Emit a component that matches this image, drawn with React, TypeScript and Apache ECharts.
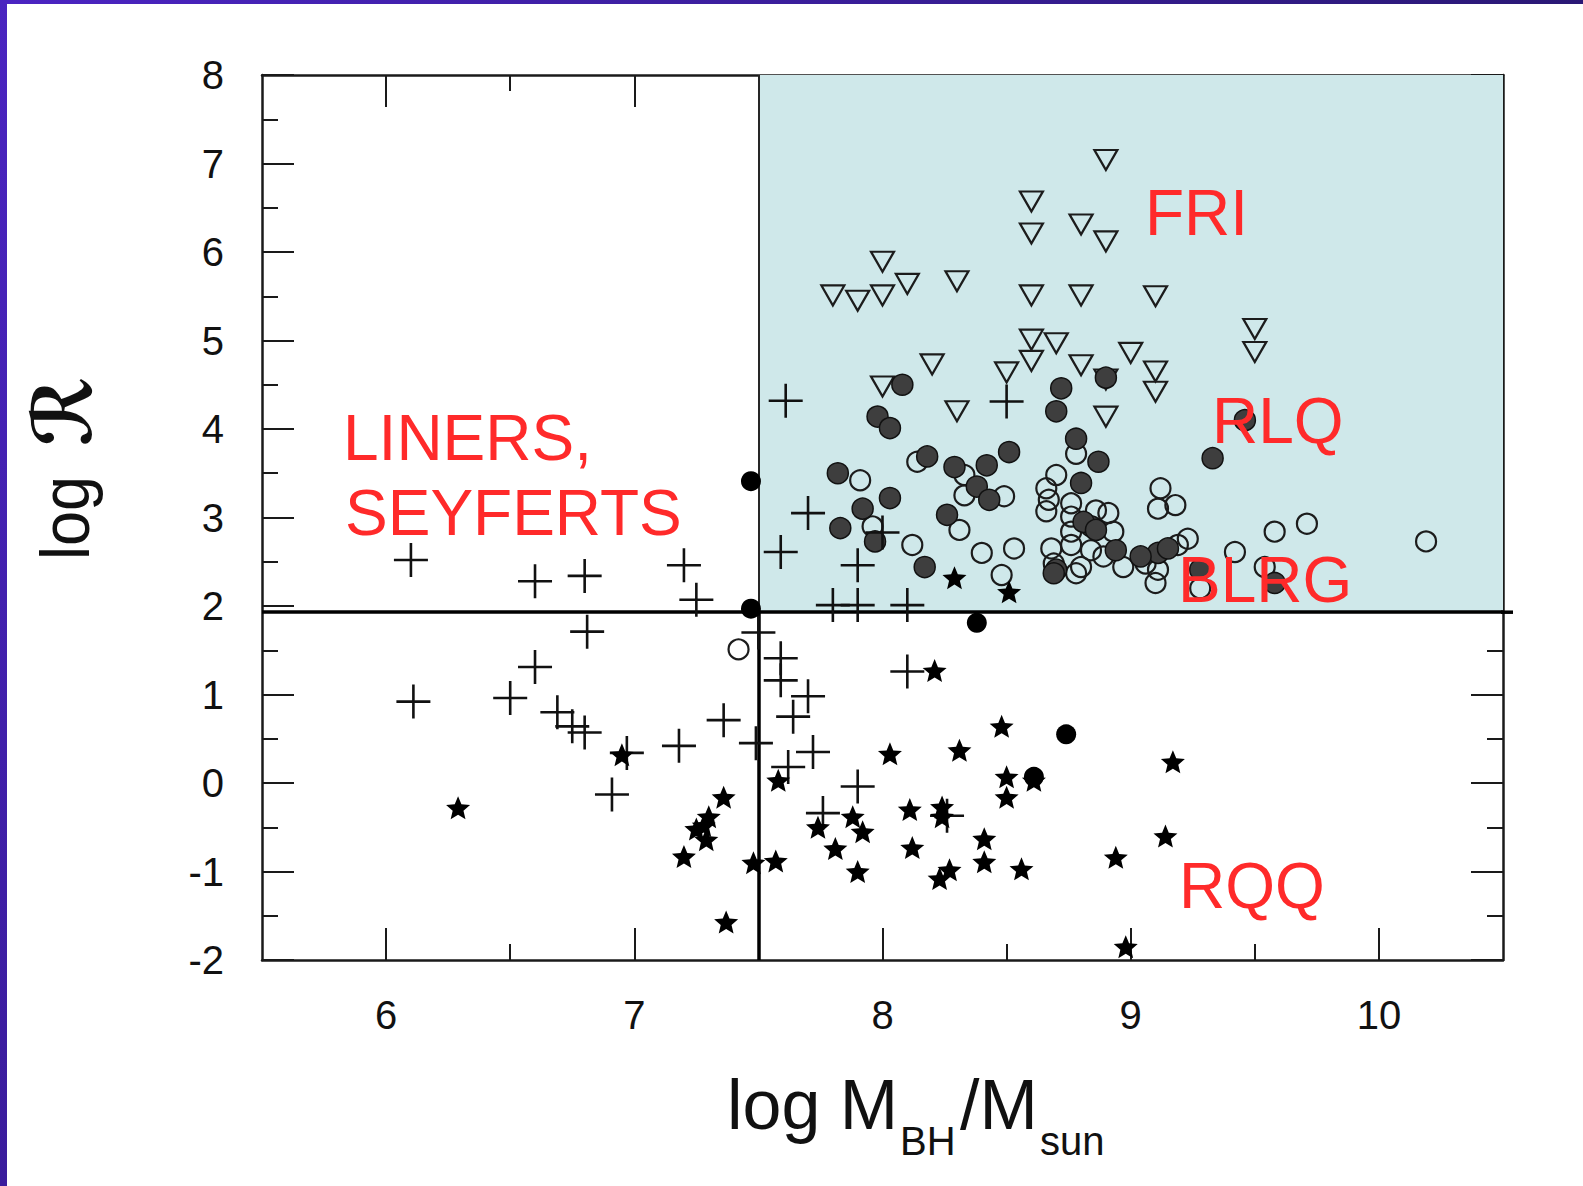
import React, { useEffect, useRef } from 'react';
import * as echarts from 'echarts';

// ---- axes ----
const xMin = 5.5;
const xMax = 10.5;
const xMajorTicks = [6, 7, 8, 9, 10];
const xMinorTicks = [6.5, 7.5, 8.5, 9.5];
const yMin = -2;
const yMax = 8;

// ---- region dividers ----
const massDivider = 7.5;
const loudnessDivider = 1.93;

// ---- data: [log M_BH, log R] ----
const friTriangles = [
  [8.9, 7.04], [8.6, 6.57], [8.6, 6.21], [8.8, 6.31], [8.9, 6.12], [8.0, 5.89], [8.1, 5.64],
  [8.3, 5.67], [7.8, 5.51], [7.9, 5.45], [8.0, 5.51], [8.6, 5.51], [8.8, 5.51], [9.1, 5.5],
  [9.5, 5.13], [9.5, 4.87], [8.6, 5.01], [8.7, 4.97], [8.6, 4.77], [8.2, 4.73], [8.8, 4.72],
  [9.0, 4.86], [9.1, 4.65], [9.1, 4.42], [8.5, 4.64], [8.0, 4.48], [8.3, 4.2], [8.9, 4.14],
  [8.9, 4.56],
];

const rlqHatched = [
  [8.08, 4.5], [7.98, 4.14], [8.03, 4.01], [8.72, 4.46], [8.7, 4.2], [8.51, 3.74], [8.18, 3.69],
  [7.82, 3.5], [8.29, 3.57], [8.42, 3.59], [8.38, 3.35], [8.43, 3.2], [8.03, 3.22], [7.92, 3.1],
  [7.83, 2.88], [7.97, 2.73], [8.26, 3.03], [8.17, 2.44], [8.78, 3.89], [8.87, 3.63], [8.8, 3.39],
  [8.84, 2.9], [8.81, 2.95], [8.86, 2.86], [9.33, 3.67], [9.46, 4.1], [9.11, 2.6], [9.15, 2.65],
  [8.7, 2.41], [9.28, 2.41], [9.58, 2.26], [8.9, 4.58], [8.69, 2.37], [8.94, 2.63], [9.04, 2.56],
];

const blrgOpen = [
  [8.14, 3.63], [7.91, 3.42], [8.31, 2.86], [8.12, 2.69], [8.4, 2.6], [8.53, 2.65], [8.48, 2.35],
  [8.33, 3.48], [8.33, 3.25], [8.49, 3.24], [7.96, 2.9], [8.78, 3.72], [8.7, 3.48], [8.66, 3.33],
  [8.67, 3.2], [8.66, 3.07], [8.76, 3.16], [8.76, 3.01], [8.86, 3.08], [8.91, 3.05], [8.93, 2.84],
  [8.76, 2.84], [8.68, 2.65], [8.76, 2.69], [8.84, 2.63], [8.89, 2.56], [8.69, 2.48], [8.8, 2.44],
  [8.78, 2.37], [8.97, 2.44], [9.06, 2.48], [9.11, 2.41], [9.1, 2.26], [9.19, 2.69], [9.23, 2.76],
  [9.12, 3.33], [9.11, 3.1], [9.18, 3.14], [9.42, 2.61], [9.58, 2.84], [9.71, 2.93], [10.19, 2.73],
  [9.54, 2.44], [9.28, 2.2], [7.42, 1.51],
];

const linerCrosses = [
  [6.1, 2.52], [6.6, 2.28], [6.8, 2.34], [7.2, 2.46], [7.25, 2.07], [6.81, 1.71], [6.6, 1.31],
  [6.11, 0.92], [6.5, 0.96], [6.69, 0.8], [6.75, 0.64], [6.8, 0.57], [6.97, 0.34], [7.18, 0.42],
  [7.36, 0.71], [6.91, -0.13], [7.49, 0.45], [7.5, 1.7], [7.59, 1.41], [7.59, 1.16], [7.7, 0.98],
  [7.64, 0.75], [7.72, 0.35], [7.62, 0.18], [7.9, -0.04], [7.76, -0.34], [8.1, 1.26], [8.26, -0.37],
  [7.61, 4.32], [8.5, 4.31], [7.7, 3.05], [7.59, 2.61], [7.9, 2.46], [7.8, 2.01], [7.9, 2.01],
  [8.1, 2.01], [8.0, 2.83],
];

const rqqStars = [
  [6.29, -0.28], [6.95, 0.32], [7.36, -0.16], [7.28, -0.48], [7.25, -0.52], [7.29, -0.64],
  [7.3, -0.38], [7.2, -0.83], [7.37, -1.57], [7.48, -0.9], [7.57, -0.88], [7.58, 0.03], [8.21, 1.27],
  [8.03, 0.33], [8.31, 0.37], [8.48, 0.64], [8.5, 0.07], [8.5, -0.16], [8.61, 0.03], [7.74, -0.5],
  [7.88, -0.38], [7.92, -0.55], [7.81, -0.74], [7.9, -1.0], [8.11, -0.3], [8.24, -0.27],
  [8.24, -0.38], [8.12, -0.73], [8.41, -0.63], [8.41, -0.89], [8.23, -1.08], [8.27, -0.98],
  [8.56, -0.97], [9.17, 0.24], [9.14, -0.6], [8.94, -0.84], [8.98, -1.85], [8.29, 2.32], [8.51, 2.16],
];

const solidDots = [[7.47, 3.41], [7.47, 1.97], [8.38, 1.81], [8.74, 0.55], [8.61, 0.07]];

// ---- styling ----
const FONT = "'Liberation Sans', Arial, Helvetica, sans-serif";
const RED = '#ff2a2a';
const INK = '#1a1a1a';
const CROSS = 'path://M15.7,0H18.3V34H15.7Z M0,15.7H34V18.3H0Z';
const STAR =
  'path://M0,-100 L26.5,-36.4 L95.1,-30.9 L42.8,13.9 L58.8,80.9 L0,45 L-58.8,80.9 L-42.8,13.9 L-95.1,-30.9 L-26.5,-36.4 Z';
const TRI_DOWN = 'path://M0,0 L20,0 L10,17.3 Z';

function xAxisDef(position: string, values: number[], length: number, showLine: boolean, showLabel: boolean) {
  return {
    type: 'value',
    position,
    min: xMin,
    max: xMax,
    axisLine: { show: showLine, onZero: false, lineStyle: { color: INK, width: 2.5 } },
    axisTick: { show: true, inside: true, length, customValues: values, lineStyle: { color: INK, width: 2 } },
    axisLabel: {
      show: showLabel,
      customValues: values,
      margin: 35,
      fontSize: 40,
      color: '#111',
      fontFamily: FONT,
    },
    splitLine: { show: false },
    minorTick: { show: false },
  };
}

function yAxisDef(position: string, showLabel: boolean) {
  return {
    type: 'value',
    position,
    min: yMin,
    max: yMax,
    interval: 1,
    axisLine: { show: true, onZero: false, lineStyle: { color: INK, width: 2.5 } },
    axisTick: { show: true, inside: true, length: 32, lineStyle: { color: INK, width: 2 } },
    minorTick: { show: true, splitNumber: 2, length: 16, lineStyle: { color: INK, width: 2 } },
    axisLabel: { show: showLabel, margin: 38, fontSize: 40, color: '#111', fontFamily: FONT },
    splitLine: { show: false },
    minorSplitLine: { show: false },
  };
}

function textEl(id: string, text: string, x: number, y: number, size: number, fill: string, scaleY = 1) {
  return {
    id,
    type: 'text',
    x,
    y,
    scaleY,
    z: 100,
    silent: true,
    style: {
      text,
      fill,
      fontSize: size,
      fontFamily: FONT,
      textAlign: 'left',
      textVerticalAlign: 'middle',
      align: 'left',
      verticalAlign: 'middle',
    },
  };
}

function rotatedText(id: string, text: string, x: number, y: number, size: number, family: string, weight = 'normal') {
  return {
    id,
    type: 'text',
    x,
    y,
    rotation: Math.PI / 2,
    scaleY: 1.1,
    z: 100,
    silent: true,
    style: {
      text,
      fill: '#111',
      fontSize: size,
      fontWeight: weight,
      fontFamily: family,
      textAlign: 'left',
      textVerticalAlign: 'middle',
      align: 'left',
      verticalAlign: 'middle',
    },
  };
}

function scatter(name: string, data: number[][], symbol: string, symbolSize: any, itemStyle: any) {
  return {
    name,
    type: 'scatter',
    silent: true,
    symbol,
    symbolSize,
    itemStyle: { opacity: 1, ...itemStyle },
    emphasis: { disabled: true },
    data,
  };
}

export default function App() {
  const ref = useRef<HTMLDivElement>(null);

  useEffect(() => {
    document.body.style.margin = '0';
    const chart = echarts.init(ref.current as HTMLDivElement, null, { renderer: 'svg' });

    const thick = { color: '#000', width: 3.5, type: 'solid' };
    const thin = { color: '#262626', width: 2, type: 'solid' };

    const graphicElements: any[] = [
      {
        id: 'bandTop',
        type: 'rect',
        z: 200,
        silent: true,
        shape: { x: 0, y: 0, width: 1583, height: 4 },
        style: {
          fill: {
            type: 'linear', x: 0, y: 0, x2: 1, y2: 0,
            colorStops: [{ offset: 0, color: '#4b24c2' }, { offset: 1, color: '#2a1875' }],
          },
        },
      },
      {
        id: 'bandLeft',
        type: 'rect',
        z: 200,
        silent: true,
        shape: { x: 0, y: 0, width: 7, height: 1186 },
        style: {
          fill: {
            type: 'linear', x: 0, y: 0, x2: 0, y2: 1,
            colorStops: [{ offset: 0, color: '#4a24c0' }, { offset: 1, color: '#3a1c9c' }],
          },
        },
      },
      textEl('fri', 'FRI', 1145, 213, 64, RED),
      textEl('rlq', 'RLQ', 1212, 421, 64, RED),
      textEl('blrg', 'BLRG', 1178, 580, 64, RED),
      textEl('rqq', 'RQQ', 1179, 886, 64, RED),
      textEl('liners', 'LINERS,', 343, 438, 64, RED),
      textEl('seyferts', 'SEYFERTS', 345, 513, 64, RED),
      textEl('xt1', 'log M', 727, 1105, 70, '#111'),
      textEl('xt2', 'BH', 900, 1141, 40, '#111'),
      textEl('xt3', '/M', 960, 1105, 70, '#111'),
      textEl('xt4', 'sun', 1040, 1141, 40, '#111'),
      rotatedText('ytitle1', 'log', 65, 560, 63, FONT),
      rotatedText('ytitle2', '\u211B', 63, 446, 74, "'DejaVu Sans', 'DejaVu Serif', serif", 'bold'),
    ];

    const option: any = {
      animation: false,
      backgroundColor: '#ffffff',
      grid: { left: 262, top: 75, right: 80, bottom: 226, containLabel: false },
      xAxis: [
        xAxisDef('bottom', xMajorTicks, 32, true, true),
        xAxisDef('bottom', xMinorTicks, 16, false, false),
        xAxisDef('top', xMajorTicks, 32, true, false),
        xAxisDef('top', xMinorTicks, 16, false, false),
      ],
      yAxis: [yAxisDef('left', true), yAxisDef('right', false)],
      series: [
        {
          name: 'shade',
          type: 'scatter',
          silent: true,
          symbol: 'none',
          data: [[9, 5]],
          markArea: {
            silent: true,
            z: 0.5,
            itemStyle: { color: '#cfe8ea' },
            data: [[{ coord: [massDivider, loudnessDivider] }, { coord: [xMax, yMax] }]],
          },
          markLine: {
            silent: true,
            z: 1.5,
            symbol: ['none', 'none'],
            label: { show: false },
            emphasis: { disabled: true },
            data: [
              [
                { coord: [xMin, loudnessDivider], lineStyle: thick },
                { coord: [xMax, loudnessDivider], lineStyle: thick },
              ],
              [
                { coord: [massDivider, yMin], lineStyle: thick },
                { coord: [massDivider, loudnessDivider], lineStyle: thick },
              ],
              [
                { coord: [massDivider, loudnessDivider], lineStyle: thin },
                { coord: [massDivider, yMax], lineStyle: thin },
              ],
            ],
          },
        },
        scatter('FRI', friTriangles, TRI_DOWN, [23, 20], {
          color: 'rgba(0,0,0,0)', borderColor: '#1c1c1c', borderWidth: 2.2,
        }),
        scatter('BLRG', blrgOpen, 'circle', 20, {
          color: 'rgba(0,0,0,0)', borderColor: '#1c1c1c', borderWidth: 2.2,
        }),
        scatter('RLQ', rlqHatched, 'circle', 21, { color: '#3e3e3e', borderColor: '#111', borderWidth: 1.5 }),
        scatter('LINERS', linerCrosses, CROSS, 34, { color: '#111' }),
        scatter('RQQ', rqqStars, STAR, [24, 23], { color: '#000' }),
        scatter('solid', solidDots, 'circle', 20, { color: '#000' }),
      ],
      graphic: { elements: graphicElements },
    };

    chart.setOption(option);

    // the dividing line runs a little past the right frame
    const end = chart.convertToPixel({ xAxisIndex: 0, yAxisIndex: 0 }, [xMax, loudnessDivider]) as number[];
    if (end && isFinite(end[0]) && isFinite(end[1])) {
      chart.setOption({
        graphic: {
          elements: graphicElements.concat([
            {
              id: 'overshoot',
              type: 'line',
              z: 50,
              silent: true,
              shape: { x1: end[0] - 2, y1: end[1], x2: end[0] + 10, y2: end[1] },
              style: { stroke: '#000', lineWidth: 3.5 },
            },
          ]),
        },
      });
    }

    return () => chart.dispose();
  }, []);

  return <div ref={ref} style={{ width: 1583, height: 1186, background: '#fff' }} />;
}
